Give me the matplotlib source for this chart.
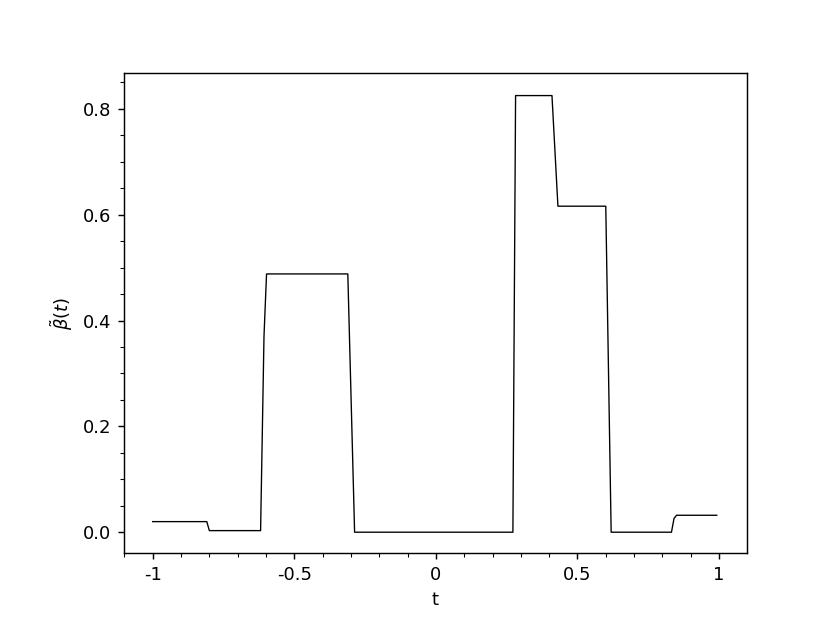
import matplotlib
matplotlib.use("Agg")
import matplotlib.pyplot as plt
from matplotlib.ticker import FixedLocator, MultipleLocator

# breakpoints of the curve
t_vals = [-1.0, -0.809, -0.800, -0.619, -0.607, -0.598, -0.311, -0.287,
          0.272, 0.2815, 0.410, 0.431, 0.600, 0.619, 0.832, 0.841, 0.850, 0.992]
beta_vals = [0.020, 0.020, 0.003, 0.003, 0.37, 0.488, 0.488, 0.0,
             0.0, 0.825, 0.825, 0.616, 0.616, 0.0, 0.0, 0.026, 0.032, 0.032]

x_ticks = [-1, -0.5, 0, 0.5, 1]
x_tick_labels = ["-1", "-0.5", "0", "0.5", "1"]
y_ticks = [0.0, 0.2, 0.4, 0.6, 0.8]
y_tick_labels = ["0.0", "0.2", "0.4", "0.6", "0.8"]

fig = plt.figure(figsize=(6.4, 4.804), dpi=129.7)
ax = fig.add_axes([0.149, 0.112, 0.751, 0.771])
ax.plot(t_vals, beta_vals, color="black", linewidth=0.75)

ax.xaxis.set_major_locator(FixedLocator(x_ticks))
ax.set_xticklabels(x_tick_labels)
ax.xaxis.set_minor_locator(MultipleLocator(0.1))
ax.yaxis.set_major_locator(FixedLocator(y_ticks))
ax.set_yticklabels(y_tick_labels)
ax.yaxis.set_minor_locator(MultipleLocator(0.05))

ax.set_xlim(-1.1025, 1.099)
ax.set_ylim(-0.0397, 0.868)
ax.set_xlabel("t")
ax.set_ylabel(r"$\tilde{\beta}(t)$")

fig.savefig("out.png", dpi=129.7)
